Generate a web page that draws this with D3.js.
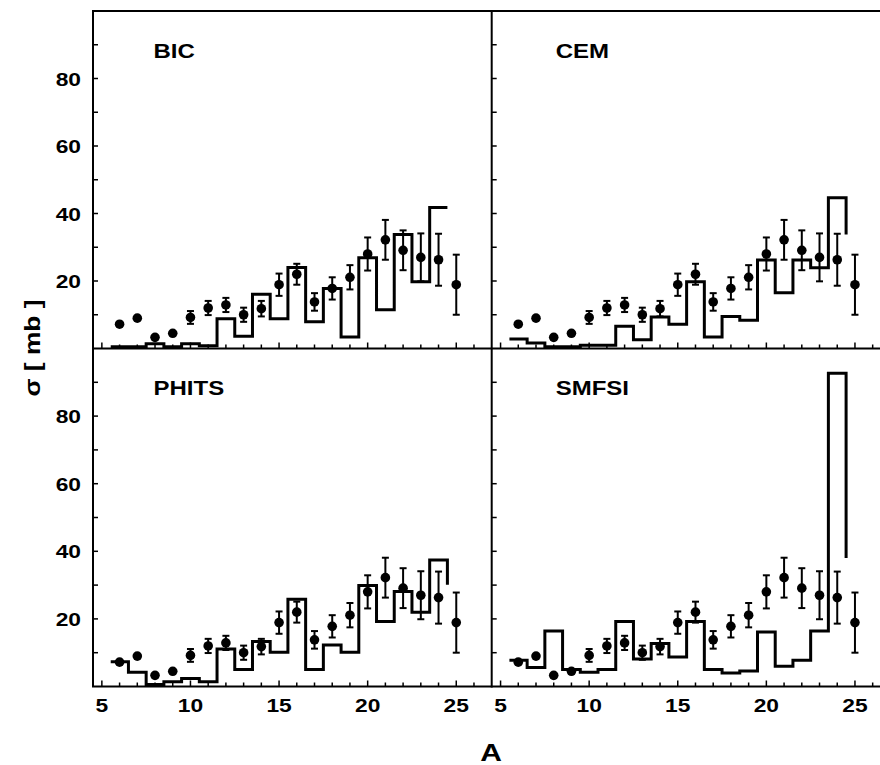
<!DOCTYPE html>
<html>
<head>
<meta charset="utf-8">
<script src="https://cdn.jsdelivr.net/npm/d3@7"></script>
<style>
  html, body { margin: 0; padding: 0; background: #fff; }
  svg { display: block; font-family: "Liberation Sans", Arial, sans-serif; }
</style>
</head>
<body>
<svg id="chart" width="880" height="765"></svg>
<script>
// ---------- data ----------
const massNumbers = [6, 7, 8, 9, 10, 11, 12, 13, 14, 15, 16, 17, 18, 19, 20, 21, 22, 23, 24, 25];
const expSigma = [7.2, 9.0, 3.3, 4.5, 9.2, 12.0, 12.9, 10.0, 11.8, 18.9, 22.0, 13.8, 17.8, 21.1, 28.0, 32.2, 29.1, 27.0, 26.3, 18.9];
const expError = [0, 0, 0, 0, 1.9, 2.1, 2.1, 2.1, 2.3, 3.3, 3.1, 2.6, 3.3, 3.6, 4.9, 5.9, 5.9, 7.1, 7.7, 8.9];

// model histograms (bin values for A = 6..25; last value closes the final step)
const bicSigma   = [0.5, 0.5, 1.4, 0.5, 1.4, 0.8, 8.8, 3.6, 16.1, 8.8, 24.0, 7.9, 17.8, 3.4, 26.9, 11.5, 33.8, 19.8, 41.8, 41.8];
const cemSigma   = [2.8, 1.6, 0.5, 0.5, 1.0, 1.0, 6.6, 2.6, 9.3, 7.2, 19.8, 3.4, 9.5, 8.4, 26.2, 16.5, 26.2, 23.9, 44.7, 33.8];
const phitsSigma = [7.3, 4.2, 0.6, 1.4, 2.4, 1.4, 11.1, 5.0, 13.3, 10.1, 25.8, 5.0, 12.3, 10.1, 29.9, 19.2, 28.1, 22.0, 37.4, 30.1];
const smfsiSigma = [7.8, 5.6, 16.4, 5.0, 4.2, 5.0, 19.2, 8.1, 12.7, 8.7, 19.2, 5.0, 4.0, 4.6, 16.1, 6.0, 7.8, 16.4, 92.7, 38.0];

const panelNames = ["BIC", "CEM", "PHITS", "SMFSI"];
const panelSeries = [bicSigma, cemSigma, phitsSigma, smfsiSigma];

const xTickMajor = [5, 10, 15, 20, 25];
const xTickMinor = d3.range(5, 27);
const yTickLabels = [20, 40, 60, 80];
const yTickMinor = [10, 20, 30, 40, 50, 60, 70, 80, 90];

// ---------- layout ----------
const svg = d3.select("#chart");
const frameLeft = 93, midX = 491.7, panelW = midX - frameLeft;
const frameTop = 11, midY = 348.5, frameBottom = 686.5;
const xDomain = [4.5, 27.0];
const yDomain = [0, 100];
const stretch = 1.2;

const cols = [frameLeft, midX];
const rows = [[frameTop, midY], [midY, frameBottom]];

const black = "#000";

panelNames.forEach((name, i) => {
  const col = i % 2, row = Math.floor(i / 2);
  const x0 = cols[col];
  const [y0, y1] = rows[row];
  const x = d3.scaleLinear().domain(xDomain).range([x0, x0 + panelW]);
  const y = d3.scaleLinear().domain(yDomain).range([y1, y0]);
  const g = svg.append("g");

  // x ticks (inward, at bottom edge)
  g.selectAll(".xminor").data(xTickMinor).enter().append("line")
    .attr("x1", d => x(d)).attr("x2", d => x(d))
    .attr("y1", y1).attr("y2", d => y1 - (d % 5 === 0 ? 6 : 4))
    .attr("stroke", black).attr("stroke-width", 1.5);

  // y ticks (inward, at left edge)
  g.selectAll(".yminor").data(yTickMinor).enter().append("line")
    .attr("x1", x0).attr("x2", x0 + 5)
    .attr("y1", d => y(d)).attr("y2", d => y(d))
    .attr("stroke", black).attr("stroke-width", 1.5);

  // y tick labels (left column only)
  if (col === 0) {
    g.selectAll(".ylab").data(yTickLabels).enter().append("text")
      .attr("transform", d => `translate(81,${y(d) + 7}) scale(${stretch},1)`)
      .attr("text-anchor", "end")
      .attr("font-size", 19).attr("font-weight", "bold")
      .text(d => d);
  }
  // x tick labels (bottom row only)
  if (row === 1) {
    g.selectAll(".xlab").data(xTickMajor).enter().append("text")
      .attr("transform", d => `translate(${x(d)},712) scale(${stretch},1)`)
      .attr("text-anchor", "middle")
      .attr("font-size", 19).attr("font-weight", "bold")
      .text(d => d);
  }

  // histogram
  const series = panelSeries[i];
  const line = d3.line()
    .x((d, k) => x(massNumbers[k] - 0.5))
    .y(d => y(d))
    .curve(d3.curveStepAfter);
  g.append("path")
    .attr("d", line(series))
    .attr("fill", "none")
    .attr("stroke", black)
    .attr("stroke-width", 3)
    .attr("stroke-linejoin", "miter")
    .attr("stroke-linecap", "butt");

  // error bars
  const pts = massNumbers.map((a, k) => ({ a, v: expSigma[k], e: expError[k] }));
  const eb = g.selectAll(".eb").data(pts.filter(p => p.e > 0)).enter().append("g");
  eb.append("line")
    .attr("x1", p => x(p.a)).attr("x2", p => x(p.a))
    .attr("y1", p => y(p.v - p.e)).attr("y2", p => y(p.v + p.e))
    .attr("stroke", black).attr("stroke-width", 2);
  eb.append("line")
    .attr("x1", p => x(p.a) - 3.5).attr("x2", p => x(p.a) + 3.5)
    .attr("y1", p => y(p.v + p.e)).attr("y2", p => y(p.v + p.e))
    .attr("stroke", black).attr("stroke-width", 2);
  eb.append("line")
    .attr("x1", p => x(p.a) - 3.5).attr("x2", p => x(p.a) + 3.5)
    .attr("y1", p => y(p.v - p.e)).attr("y2", p => y(p.v - p.e))
    .attr("stroke", black).attr("stroke-width", 2);

  // points
  g.selectAll(".pt").data(pts).enter().append("circle")
    .attr("cx", p => x(p.a)).attr("cy", p => y(p.v))
    .attr("r", 4.8).attr("fill", black);

  // panel label
  g.append("text")
    .attr("transform", `translate(${x0 + (col === 0 ? 60.5 : 64)},${y0 + 46.5}) scale(${stretch},1)`)
    .attr("font-size", 20).attr("font-weight", "bold")
    .text(name);
});

// frame
svg.append("rect")
  .attr("x", frameLeft).attr("y", frameTop)
  .attr("width", 2 * panelW).attr("height", frameBottom - frameTop)
  .attr("fill", "none").attr("stroke", black).attr("stroke-width", 2);
svg.append("line")
  .attr("x1", frameLeft).attr("x2", frameLeft + 2 * panelW)
  .attr("y1", midY).attr("y2", midY)
  .attr("stroke", black).attr("stroke-width", 2);
svg.append("line")
  .attr("x1", midX).attr("x2", midX)
  .attr("y1", frameTop).attr("y2", frameBottom + 1)
  .attr("stroke", black).attr("stroke-width", 2);

// axis titles
svg.append("text")
  .attr("transform", `translate(491,761) scale(1.25,1)`)
  .attr("text-anchor", "middle")
  .attr("font-size", 24).attr("font-weight", "bold")
  .text("A");
svg.append("text")
  .attr("transform", `translate(40,348) rotate(-90) scale(${stretch},1)`)
  .attr("text-anchor", "middle")
  .attr("font-size", 22).attr("font-weight", "bold")
  .text("σ [ mb ]");
</script>
</body>
</html>
